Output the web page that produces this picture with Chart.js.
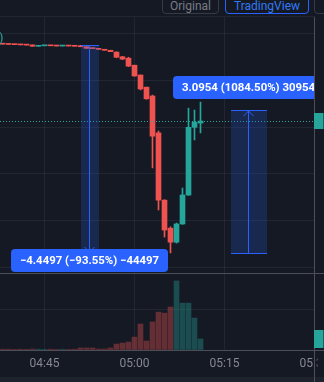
<!DOCTYPE html>
<html>
<head>
  <meta charset="UTF-8">
  <title>Candles</title>
  <style>
    body {
      margin: 0;
      width: 324px;
      height: 382px;
      overflow: hidden;
      position: relative;
      background-color: #151924;
      font-family: Roboto, sans-serif;
    }
    canvas { position: absolute; left: 0; }
    #main { top: 0; }
    #vol { top: 273px; }
    .strip {
      position: absolute; left: 0; top: 377px; width: 324px; height: 5px;
      background-color: #1e222d;
    }
    .btn {
      position: absolute;
      top: -5px;
      height: 19px;
      box-sizing: border-box;
      border: 1px solid #363a45;
      border-radius: 4px;
      color: #787b86;
      font-size: 12px;
      line-height: 20px;
      text-align: center;
    }
    .btn.on { border-color: #2962ff; color: #3179f5; }
  </style>
</head>
<body>
  <div class="strip"></div>
  <div class="btn" style="left:162px; width:57px;">Original</div>
  <div class="btn on" style="left:225px; width:84px;">TradingView</div>
  <div class="btn" style="left:314px; width:30px;">&nbsp;</div>

  <canvas id="main" width="324" height="273"></canvas>
  <canvas id="vol" width="324" height="109"></canvas>

  <script src="https://cdn.jsdelivr.net/npm/chart.js"></script>
  <script>
    // one-minute candles, minutes after 04:00
    var candleMinutes = [38, 39, 40, 41, 42, 43, 44, 45, 46, 47, 48, 49, 50, 51, 52, 53, 54,
                         55, 56, 57, 58, 59, 60, 61, 62, 63, 64, 65, 66, 67, 68, 69, 70, 71];
    var opens  = [4.790, 4.780, 4.775, 4.770, 4.765, 4.765, 4.735, 4.745, 4.750, 4.745, 4.740, 4.745,
                  4.740, 4.735, 4.725, 4.690, 4.685, 4.670, 4.650, 4.610, 4.510, 4.480, 4.330, 4.120,
                  3.860, 3.670, 2.880, 1.440, 0.840, 0.540, 0.930, 1.550, 3.000, 3.090];
    var highs  = [4.790, 4.780, 4.775, 4.770, 4.765, 4.765, 4.745, 4.750, 4.750, 4.745, 4.745, 4.745,
                  4.740, 4.757, 4.725, 4.690, 4.685, 4.670, 4.650, 4.620, 4.520, 4.500, 4.330, 4.120,
                  3.860, 3.690, 2.920, 1.450, 0.870, 0.950, 1.700, 3.410, 3.370, 3.540];
    var lows   = [4.780, 4.775, 4.770, 4.765, 4.760, 4.735, 4.735, 4.745, 4.745, 4.740, 4.740, 4.740,
                  4.735, 4.725, 4.690, 4.685, 4.670, 4.650, 4.620, 4.490, 4.450, 4.300, 4.090, 3.800,
                  3.600, 2.130, 1.230, 0.650, 0.310, 0.520, 0.920, 1.540, 2.730, 2.880];
    var closes = [4.780, 4.775, 4.770, 4.765, 4.760, 4.735, 4.745, 4.750, 4.745, 4.740, 4.745, 4.740,
                  4.735, 4.725, 4.690, 4.685, 4.670, 4.650, 4.620, 4.500, 4.460, 4.310, 4.100, 3.820,
                  3.610, 2.810, 1.440, 0.800, 0.540, 0.930, 1.550, 3.000, 3.110, 3.135];
    // volume in thousands
    var volumes = [0.4, 0.4, 0.3, 0.4, 0.3, 0.5, 0.4, 0.3, 0.4, 0.3, 0.4, 0.3, 0.4, 1.0, 1.0, 1.0, 0.5,
                   0.5, 1.0, 2.9, 3.4, 3.9, 6.3, 12.7, 4.4, 13.7, 18.5, 18.0, 21.0, 33.7, 22.9, 22.9,
                   15.6, 5.4];

    var priceTicks = [0, 1, 2, 3, 4, 5];
    var volumeTicks = [0, 20];
    var timeTicks = [45, 60, 75, 90];
    var timeLabels = ['04:45', '05:00', '05:15', '05:30'];

    // price range measurements
    var measureStartMin = [51, 76];
    var measureEndMin = [54, 82];
    var measureFromPrice = [4.7565, 0.2854];
    var measureToPrice = [0.3068, 3.3808];
    var measureLabels = ['\u22124.4497 (\u221293.55%) \u221244497', '3.0954 (1084.50%) 30954'];

    var upColor = '#26a69a';
    var downColor = '#ef5350';
    var gridColor = 'rgba(255, 255, 255, 0.06)';
    var lineColor = '#4c4f5a';
    var blue = '#2962ff';
    var bgColor = '#151924';

    Chart.defaults.font.family = 'Roboto';
    Chart.defaults.animation = false;

    function isUp(i) { return closes[i] >= opens[i]; }
    function candleColor(ctx) { return isUp(ctx.dataIndex) ? upColor : downColor; }

    var xView = { min: 37.5833, max: 90.0833 };

    function roundRect(ctx, x, y, w, h, r) {
      ctx.beginPath();
      ctx.moveTo(x + r, y);
      ctx.arcTo(x + w, y, x + w, y + h, r);
      ctx.arcTo(x + w, y + h, x, y + h, r);
      ctx.arcTo(x, y + h, x, y, r);
      ctx.arcTo(x, y, x + w, y, r);
      ctx.closePath();
    }

    var mainDecor = {
      id: 'mainDecor',
      afterDatasetsDraw: function (chart) {
        var ctx = chart.ctx, a = chart.chartArea;
        var x = chart.scales.x, y = chart.scales.y;
        var axisX = Math.round(a.right) - 0.5;
        ctx.save();

        // pane top
        ctx.strokeStyle = gridColor;
        ctx.beginPath(); ctx.moveTo(0, a.top - 0.5); ctx.lineTo(a.right, a.top - 0.5); ctx.stroke();

        // last price line
        var last = closes.length - 1;
        var yLast = Math.round(y.getPixelForValue(closes[last])) + 0.5;
        ctx.strokeStyle = upColor;
        ctx.setLineDash([1, 2]);
        ctx.beginPath(); ctx.moveTo(a.left, yLast); ctx.lineTo(a.right, yLast); ctx.stroke();
        ctx.setLineDash([]);

        // measurement boxes
        ctx.beginPath(); ctx.rect(a.left, a.top, a.right - a.left, a.bottom - a.top); ctx.clip();
        measureStartMin.forEach(function (m0, k) {
          var x0 = Math.round(x.getPixelForValue(m0));
          var x1 = Math.round(x.getPixelForValue(measureEndMin[k]));
          var yA = Math.round(y.getPixelForValue(measureFromPrice[k]));
          var yB = Math.round(y.getPixelForValue(measureToPrice[k]));
          var top = Math.min(yA, yB), bot = Math.max(yA, yB);
          var xc = Math.round((x0 + x1) / 2) - 0.5;
          var up = measureToPrice[k] > measureFromPrice[k];

          ctx.fillStyle = 'rgba(41, 98, 255, 0.2)';
          ctx.fillRect(x0, top, x1 - x0, bot - top);
          ctx.strokeStyle = blue;
          ctx.lineWidth = 1;
          ctx.beginPath();
          ctx.moveTo(x0, top + 0.5); ctx.lineTo(x1, top + 0.5);
          ctx.moveTo(x0, bot - 0.5); ctx.lineTo(x1, bot - 0.5);
          ctx.moveTo(xc, top); ctx.lineTo(xc, bot);
          if (up) {
            ctx.moveTo(xc - 5, top + 6); ctx.lineTo(xc, top + 1); ctx.lineTo(xc + 5, top + 6);
          } else {
            ctx.moveTo(xc - 5, bot - 6); ctx.lineTo(xc, bot - 1); ctx.lineTo(xc + 5, bot - 6);
          }
          ctx.stroke();

          // label
          ctx.font = 'bold 11.4px Roboto';
          var tw = ctx.measureText(measureLabels[k]).width;
          var w = Math.round(tw + 18), h = 23;
          var lx = Math.round(xc - w / 2);
          var ly = up ? yB - 11 - h : Math.min(yB + 11, a.bottom - 1 - h);
          ctx.fillStyle = blue;
          roundRect(ctx, lx, ly, w, h, 4);
          ctx.fill();
          ctx.fillStyle = '#ffffff';
          ctx.textAlign = 'center';
          ctx.textBaseline = 'middle';
          ctx.fillText(measureLabels[k], xc, ly + h / 2 + 1);
        });
        ctx.restore();

        ctx.save();
        // legend remnant
        ctx.fillStyle = upColor;
        ctx.font = '13px Roboto';
        ctx.textAlign = 'left';
        ctx.textBaseline = 'alphabetic';
        ctx.fillText(')', -1, 42);

        // price axis border and last price tag
        ctx.strokeStyle = lineColor;
        ctx.beginPath(); ctx.moveTo(axisX, a.top); ctx.lineTo(axisX, chart.height); ctx.stroke();
        ctx.fillStyle = upColor;
        ctx.fillRect(axisX - 0.5, yLast - 8.5, chart.width - axisX, 16);
        ctx.restore();
      }
    };

    var volDecor = {
      id: 'volDecor',
      afterDraw: function (chart) {
        var ctx = chart.ctx, a = chart.chartArea, y = chart.scales.y;
        var axisX = Math.round(a.right) - 0.5;
        ctx.save();
        // price axis column hides the tail of the last time label
        ctx.fillStyle = bgColor;
        ctx.fillRect(axisX + 3, a.bottom + 1, chart.width, chart.height - a.bottom - 6);
        ctx.strokeStyle = lineColor;
        ctx.beginPath();
        ctx.moveTo(0, 0.5); ctx.lineTo(chart.width, 0.5);
        ctx.moveTo(0, Math.round(a.bottom) + 0.5); ctx.lineTo(chart.width, Math.round(a.bottom) + 0.5);
        ctx.moveTo(axisX, 0); ctx.lineTo(axisX, chart.height);
        ctx.stroke();
        var last = volumes.length - 1;
        var yv = Math.round(y.getPixelForValue(volumes[last]));
        ctx.fillStyle = isUp(last) ? upColor : downColor;
        ctx.fillRect(axisX - 0.5, yv - 9, chart.width - axisX, 18);
        ctx.restore();
      }
    };

    function timeAxis(showLabels) {
      return {
        type: 'linear', min: xView.min, max: xView.max,
        offset: false,
        afterBuildTicks: function (s) { s.ticks = timeTicks.map(function (v) { return { value: v }; }); },
        afterFit: function (s) { s.height = showLabels ? 32 : 0; s.paddingLeft = 0; s.paddingRight = 0; },
        ticks: {
          display: showLabels,
          color: '#868993',
          font: { size: 12 },
          padding: 7,
          maxRotation: 0,
          autoSkip: false,
          callback: function (v) { return timeLabels[timeTicks.indexOf(v)]; }
        },
        grid: { color: gridColor, drawTicks: false, offset: false },
        border: { display: false }
      };
    }

    new Chart(document.getElementById('main'), {
      type: 'bar',
      data: {
        datasets: [{
          data: candleMinutes.map(function (m, i) { return { x: m, y: [lows[i], highs[i]] }; }),
          backgroundColor: candleColor,
          grouped: false,
          barPercentage: 1,
          categoryPercentage: 1,
          maxBarThickness: 1
        }, {
          data: candleMinutes.map(function (m, i) { return { x: m, y: [opens[i], closes[i]] }; }),
          backgroundColor: candleColor,
          grouped: false,
          barPercentage: 1,
          categoryPercentage: 1,
          maxBarThickness: 5,
          minBarLength: 1
        }]
      },
      options: {
        responsive: false,
        layout: { padding: { top: 17, left: 0, right: 0 } },
        plugins: { legend: { display: false }, tooltip: { enabled: false } },
        scales: {
          x: timeAxis(false),
          y: {
            position: 'right', min: -0.12, max: 5.362,
            afterBuildTicks: function (s) { s.ticks = priceTicks.map(function (v) { return { value: v }; }); },
            afterFit: function (s) { s.width = 9; },
            ticks: { display: false },
            grid: { color: gridColor, drawTicks: false },
            border: { display: false }
          }
        }
      },
      plugins: [mainDecor]
    });

    new Chart(document.getElementById('vol'), {
      type: 'bar',
      data: {
        datasets: [{
          data: candleMinutes.map(function (m, i) { return { x: m, y: volumes[i] }; }),
          backgroundColor: function (ctx) {
            return isUp(ctx.dataIndex) ? 'rgba(38, 166, 154, 0.36)' : 'rgba(239, 83, 80, 0.36)';
          },
          grouped: false,
          barPercentage: 1,
          categoryPercentage: 1,
          maxBarThickness: 5
        }]
      },
      options: {
        responsive: false,
        layout: { padding: { top: 1, left: 0, right: 0 } },
        plugins: { legend: { display: false }, tooltip: { enabled: false } },
        scales: {
          x: timeAxis(true),
          y: {
            position: 'right', min: 0, max: 37.1,
            afterBuildTicks: function (s) { s.ticks = volumeTicks.map(function (v) { return { value: v }; }); },
            afterFit: function (s) { s.width = 9; },
            ticks: { display: false },
            grid: { color: gridColor, drawTicks: false },
            border: { display: false }
          }
        }
      },
      plugins: [volDecor]
    });
  </script>
</body>
</html>
